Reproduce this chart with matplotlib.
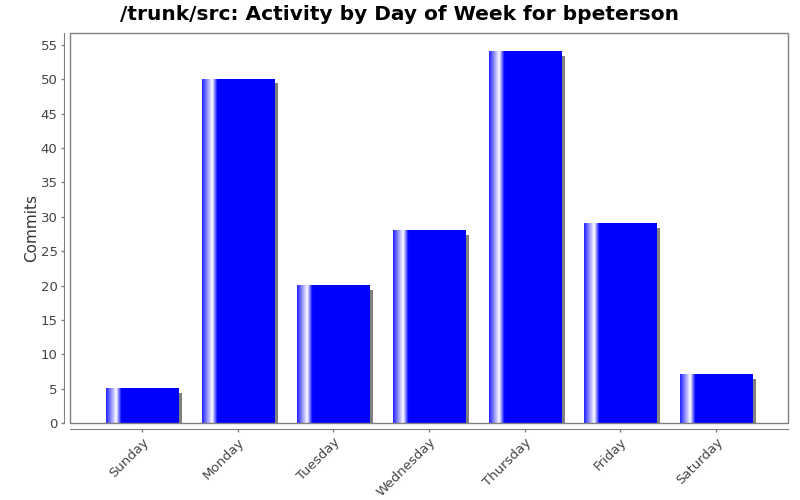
import numpy as np
import matplotlib
matplotlib.use("Agg")
import matplotlib.pyplot as plt
from matplotlib.patches import Rectangle
from matplotlib.colors import LinearSegmentedColormap

days = ["Sunday", "Monday", "Tuesday", "Wednesday", "Thursday", "Friday", "Saturday"]
commits = [5, 50, 20, 28, 54, 29, 7]
yticks = list(range(0, 56, 5))

fig = plt.figure(figsize=(8, 5), dpi=100)
ax = fig.add_axes([70/800, 77/500, 718/800, 390/500])

bw = 0.753
cmap = LinearSegmentedColormap.from_list(
    "g", [(0, "#2020ff"), (0.07, "#9090ff"), (0.14, "#ffffff"), (0.21, "#0000ff"), (1, "#0000ff")])
grad = np.linspace(0, 1, 256).reshape(1, -1)

dx = 4 / 95.67
dy = 4 / 6.855
for i, v in enumerate(commits):
    x0 = i - bw / 2
    ax.add_patch(Rectangle((x0 + dx, 0), bw, max(v - dy, 0), facecolor="#808080",
                           edgecolor="none", zorder=1))
    ax.imshow(grad, cmap=cmap, aspect="auto", extent=(x0, x0 + bw, 0, v),
              interpolation="bilinear", zorder=2)

ax.set_xlim(-0.752, 6.752)
ax.set_ylim(0, 56.75)

for s in ["top", "right"]:
    ax.spines[s].set_visible(False)
for s in ["left", "bottom"]:
    ax.spines[s].set_position(("outward", 4))
    ax.spines[s].set_color("#808080")
ax.add_patch(Rectangle((0, 0), 1, 1, transform=ax.transAxes, fill=False,
                       edgecolor="#808080", linewidth=1, clip_on=False, zorder=5))
ax.tick_params(axis="both", color="#808080", length=2, width=1, pad=3,
               labelsize=9.5, labelcolor="#444444")

ax.set_xticks(range(len(days)))
ax.set_xticklabels(days)
ax.set_yticks(yticks)
ax.set_yticklabels([str(t) for t in yticks])
for lab in ax.get_xticklabels():
    lab.set_rotation(45)
    lab.set_ha("right")
    lab.set_rotation_mode("anchor")

ax.set_ylabel("Commits", fontsize=11, color="#333333", labelpad=1)
fig.suptitle("/trunk/src: Activity by Day of Week for bpeterson", fontsize=14.5,
             fontweight="bold", y=0.99, x=0.5, va="top")

fig.savefig("out.png", dpi=100)
